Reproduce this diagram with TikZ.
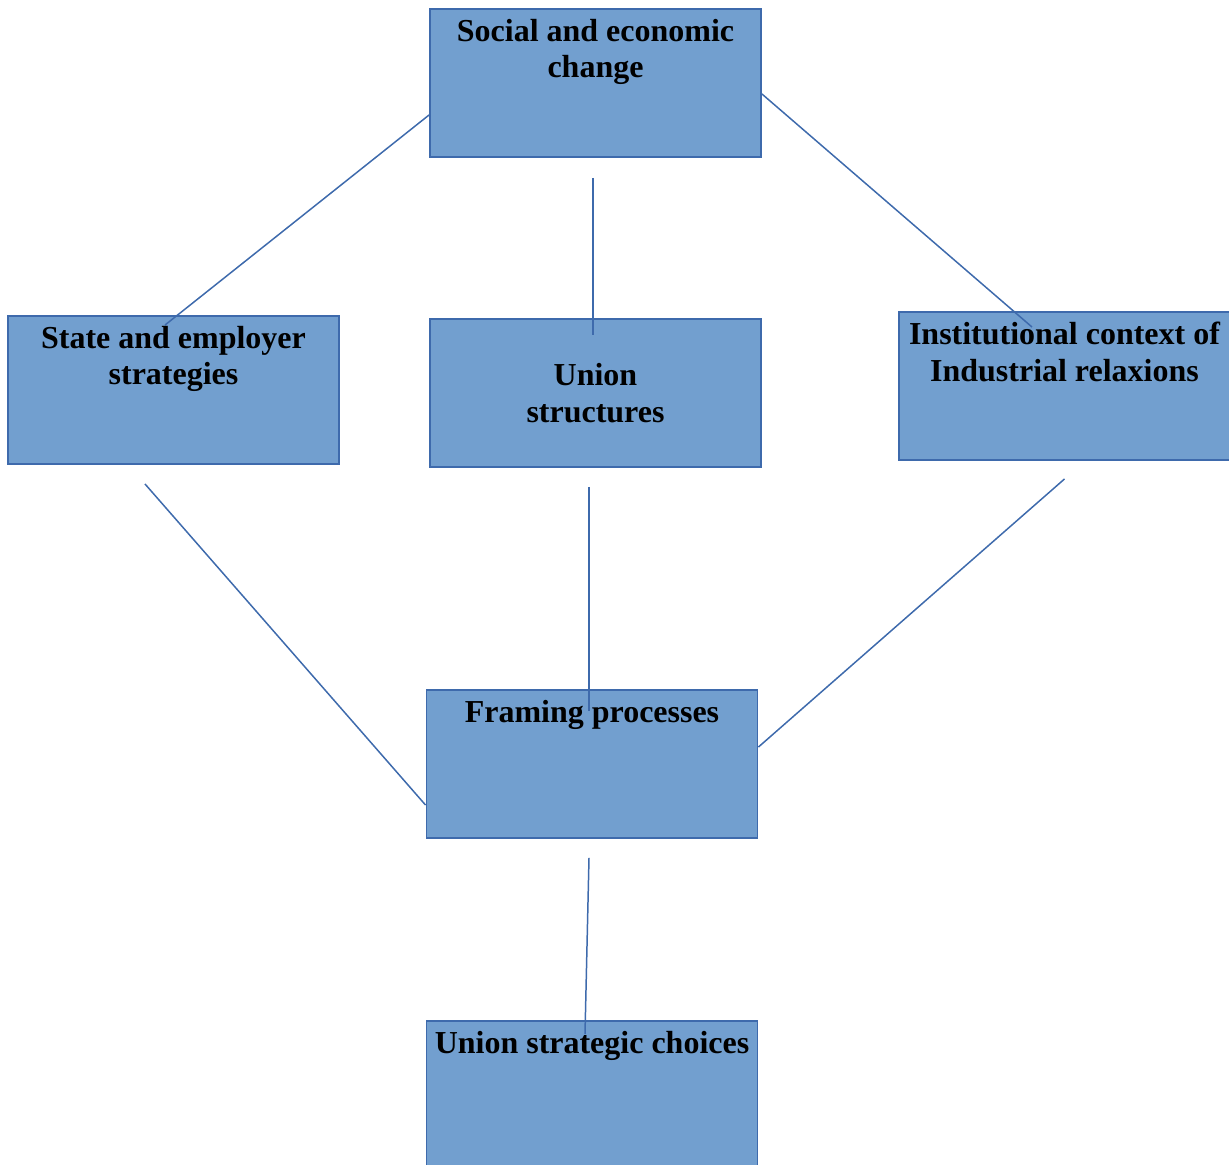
\documentclass[tikz,border=0pt]{standalone}
\usepackage{fontspec}
\setmainfont{Liberation Serif}
\usetikzlibrary{positioning}

\definecolor{boxfill}{RGB}{114,159,207}
\definecolor{boxline}{RGB}{62,106,172}

\begin{document}
\begin{tikzpicture}[
    box/.style={rectangle, draw=boxline, fill=boxfill, line width=1.1pt,
        minimum width=6.62cm, minimum height=2.96cm, inner sep=0pt},
    label/.style={font=\bfseries\fontsize{18.2}{21}\selectfont, align=center,
        inner sep=0pt},
    toplabel/.style={label, anchor=north, yshift=-0.21cm},
    link/.style={draw=boxline, line width=0.85pt}
]
\useasboundingbox (0,0) rectangle (24.58,-23.28);

\node[box] (social)  at (11.91,-1.66) {};
\node[box] (state)   at (3.47,-7.80)  {};
\node[box] (ustruct) at (11.91,-7.86) {};
\node[box] (inst)    at (21.29,-7.72) {};
\node[box] (framing) at (11.84,-15.28) {};
\node[box] (choices) at (11.84,-21.90) {};

\draw[link] ([yshift=-0.64cm]social.west)
    -- ([xshift=-0.17cm,yshift=-0.2cm]state.north);
\draw[link] ([xshift=-0.05cm,yshift=-0.4cm]social.south)
    -- ([xshift=-0.05cm,yshift=-0.34cm]ustruct.north);
\draw[link] ([yshift=-0.22cm]social.east)
    -- ([xshift=-0.65cm,yshift=-0.32cm]inst.north);
\draw[link] ([xshift=-0.57cm,yshift=-0.38cm]state.south)
    -- ([yshift=-0.82cm]framing.west);
\draw[link] ([xshift=-0.13cm,yshift=-0.38cm]ustruct.south)
    -- ([xshift=-0.06cm,yshift=-0.44cm]framing.north);
\draw[link] ([yshift=-0.36cm]inst.south)
    -- ([yshift=0.34cm]framing.east);
\draw[link] ([xshift=-0.06cm,yshift=-0.38cm]framing.south)
    -- ([xshift=-0.14cm,yshift=-0.28cm]choices.north);

\node[toplabel] (social-txt)  at (social.north)  {Social and economic\\change};
\node[toplabel] (state-txt)   at (state.north)   {State and employer\\strategies};
\node[label]    (ustruct-txt) at (ustruct.center) {Union\\structures};
\node[toplabel] (inst-txt)    at (inst.north)    {Institutional context of\\Industrial relaxions};
\node[toplabel] (framing-txt) at (framing.north) {Framing processes};
\node[toplabel] (choices-txt) at (choices.north) {Union strategic choices};
\end{tikzpicture}
\end{document}
